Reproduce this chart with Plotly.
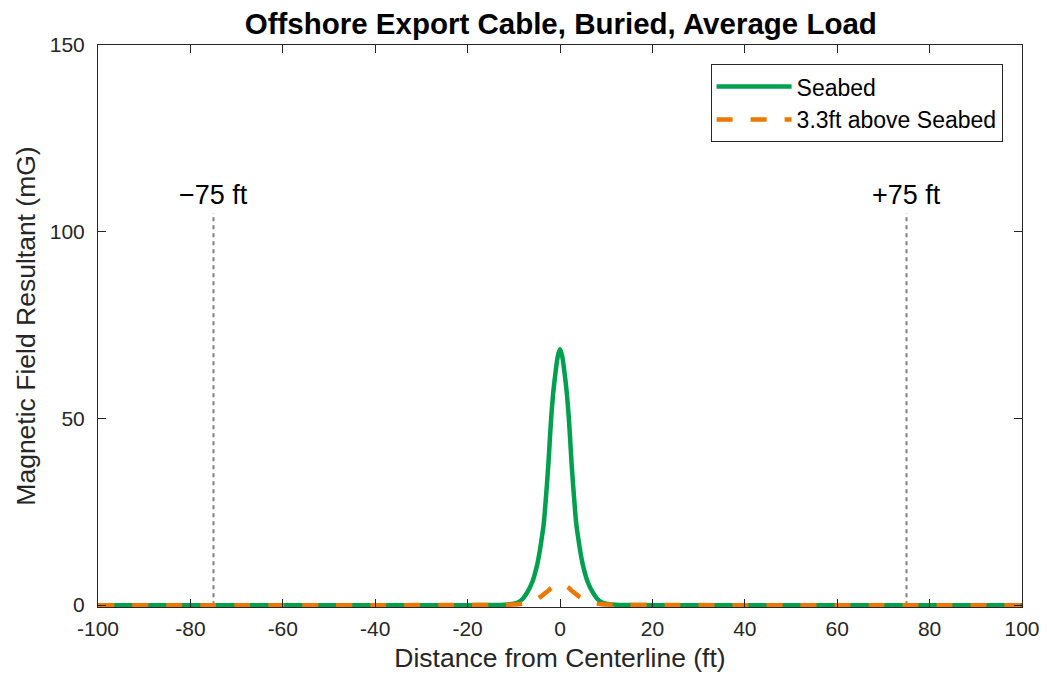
import plotly.graph_objects as go

# Field profiles (distance in ft, field in mG)
distance_ft = [-100, -20, -15, -12, -10, -9, -8, -7, -6, -5, -4.5, -4, -3.5, -3, -2.5, -2, -1.5, -1, -0.5,
               0, 0.5, 1, 1.5, 2, 2.5, 3, 3.5, 4, 4.5, 5, 6, 7, 8, 9, 10, 12, 15, 20, 100]
seabed_mG = [0, 0, 0.03, 0.12, 0.4, 0.8, 1.8, 3.6, 6.2, 10.5, 13.6, 17.5, 22.0, 29.5, 38.0, 48.5, 56.5, 62.0, 66.5,
             68.5, 66.5, 62.0, 56.5, 48.5, 38.0, 29.5, 22.0, 17.5, 13.6, 10.5, 6.2, 3.6, 1.8, 0.8, 0.4, 0.12, 0.03, 0, 0]
above_seabed_mG = [0, 0.01, 0.03, 0.07, 0.15, 0.25, 0.4, 0.65, 1.0, 1.6, 2.0, 2.4, 2.9, 3.4, 3.9, 4.5, 4.95, 5.3, 5.5,
                   5.6, 5.5, 5.3, 4.95, 4.5, 3.9, 3.4, 2.9, 2.4, 2.0, 1.6, 1.0, 0.65, 0.4, 0.25, 0.15, 0.07, 0.03, 0.01, 0]

# Right-of-way markers
marker_x = [-75, 75]
marker_top = 105
marker_labels = ["\u221275 ft", "+75 ft"]

x_ticks = [-100, -80, -60, -40, -20, 0, 20, 40, 60, 80, 100]
x_tick_text = ["-100", "-80", "-60", "-40", "-20", "0", "20", "40", "60", "80", "100"]
y_ticks = [0, 50, 100, 150]

FONT = "Liberation Sans, Arial, Helvetica, sans-serif"
GREEN = "#00A04F"
ORANGE = "#EE7700"
AXIS = "#262626"

fig = go.Figure()

for x in marker_x:
    fig.add_trace(go.Scatter(
        x=[x, x], y=[0, marker_top], mode="lines",
        line=dict(color="#808080", width=2, dash="4px,4px"),
        showlegend=False, hoverinfo="skip"
    ))

fig.add_trace(go.Scatter(
    x=distance_ft, y=seabed_mG, mode="lines", name="Seabed",
    line=dict(color=GREEN, width=4.5, shape="spline", smoothing=0.6)
))
fig.add_trace(go.Scatter(
    x=distance_ft, y=above_seabed_mG, mode="lines", name="3.3ft above Seabed",
    line=dict(color=ORANGE, width=4.5, dash="16px,18px", shape="spline", smoothing=0.6)
))

for x, label in zip(marker_x, marker_labels):
    fig.add_annotation(x=x, y=marker_top, text=label, showarrow=False,
                       yanchor="bottom", yshift=1,
                       font=dict(family=FONT, size=27, color="#000000"))

axis_common = dict(
    showline=True, linecolor=AXIS, linewidth=1, mirror="ticks",
    ticks="inside", ticklen=8, tickcolor=AXIS, tickwidth=1,
    showgrid=False, zeroline=False,
    tickfont=dict(family=FONT, size=21, color=AXIS),
)

fig.update_layout(
    width=1047, height=681,
    margin=dict(l=90, r=33, t=37, b=82),
    paper_bgcolor="white", plot_bgcolor="white",
    title=dict(text="<b>Offshore Export Cable, Buried, Average Load</b>",
               x=0.528, xanchor="center", y=0.977, yanchor="middle",
               font=dict(family=FONT, size=29.5, color="#000000")),
    xaxis=dict(range=[-100, 100], tickvals=x_ticks, ticktext=x_tick_text,
               ticklabelstandoff=3,
               title=dict(text="Distance from Centerline (ft)", standoff=9,
                          font=dict(family=FONT, size=26.5, color=AXIS)),
               **axis_common),
    yaxis=dict(range=[-0.5, 150], tickvals=y_ticks, ticklabelstandoff=8,
               title=dict(text="Magnetic Field Resultant (mG)", standoff=6,
                          font=dict(family=FONT, size=26.5, color=AXIS)),
               **axis_common),
    legend=dict(x=0.979, xanchor="right", y=0.966, yanchor="top",
                bordercolor=AXIS, borderwidth=1, bgcolor="white",
                itemwidth=75, tracegroupgap=0,
                font=dict(family=FONT, size=23, color="#000000")),
    showlegend=True,
)

fig.write_html("out.html")
